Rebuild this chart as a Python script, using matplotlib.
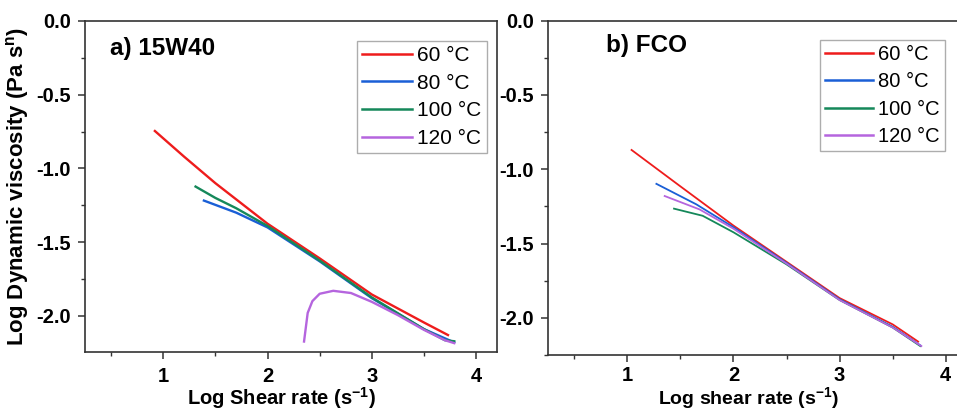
import matplotlib
matplotlib.use("Agg")
import matplotlib.pyplot as plt
from matplotlib.ticker import MultipleLocator, FormatStrFormatter

plt.rcParams['font.family'] = ['Liberation Sans', 'DejaVu Sans']
plt.rcParams['mathtext.default'] = 'regular'
plt.rcParams['axes.unicode_minus'] = False

labels = ['60 °C', '80 °C', '100 °C', '120 °C']
colors = ['#ee1c1c', '#1a5fd6', '#15885a', '#b565de']

# Panel a) 15W40
a_x60 = [0.92, 1.2, 1.5, 2.0, 2.5, 3.0, 3.5, 3.73]
a_y60 = [-0.746, -0.92, -1.10, -1.375, -1.61, -1.855, -2.045, -2.13]
a_x80 = [1.39, 1.7, 2.0, 2.5, 3.0, 3.5, 3.79]
a_y80 = [-1.218, -1.30, -1.40, -1.63, -1.88, -2.09, -2.18]
a_x100 = [1.31, 1.5, 1.7, 2.0, 2.5, 3.0, 3.5, 3.7, 3.79]
a_y100 = [-1.123, -1.20, -1.27, -1.39, -1.625, -1.875, -2.09, -2.165, -2.172]
a_x120 = [2.35, 2.385, 2.43, 2.5, 2.63, 2.8, 3.0, 3.25, 3.5, 3.7, 3.79]
a_y120 = [-2.174, -1.98, -1.90, -1.85, -1.83, -1.845, -1.905, -1.995, -2.095, -2.165, -2.185]

# Panel b) FCO
b_x60 = [1.04, 1.5, 2.0, 2.5, 3.0, 3.5, 3.74]
b_y60 = [-0.87, -1.115, -1.379, -1.623, -1.867, -2.044, -2.16]
b_x80 = [1.274, 1.65, 2.0, 2.5, 3.0, 3.5, 3.76]
b_y80 = [-1.098, -1.236, -1.39, -1.63, -1.875, -2.06, -2.185]
b_x100 = [1.44, 1.71, 2.0, 2.5, 3.0, 3.5, 3.76]
b_y100 = [-1.265, -1.313, -1.424, -1.64, -1.88, -2.065, -2.19]
b_x120 = [1.352, 1.68, 2.0, 2.5, 3.0, 3.5, 3.77]
b_y120 = [-1.18, -1.27, -1.40, -1.635, -1.88, -2.065, -2.19]

W, H = 957, 412
fig = plt.figure(figsize=(W / 100, H / 100), dpi=100)

def px_axes(x0, x1, ytop, ybot):
    return fig.add_axes([x0 / W, 1 - ybot / H, (x1 - x0) / W, (ybot - ytop) / H])

A1 = (85, 497, 21, 352)
A2 = (547.7, 967, 20.7, 355)
ax1 = px_axes(*A1)
ax2 = px_axes(*A2)

def style(ax, ylim_low, xpad):
    ax.set_xlim(0.25, 4.2)
    ax.set_ylim(ylim_low, 0)
    ax.xaxis.set_major_locator(MultipleLocator(1))
    ax.xaxis.set_minor_locator(MultipleLocator(0.5))
    ax.yaxis.set_major_locator(MultipleLocator(0.5))
    ax.yaxis.set_minor_locator(MultipleLocator(0.25))
    ax.yaxis.set_major_formatter(FormatStrFormatter('%.1f'))
    ax.tick_params(which='major', direction='out', length=5, width=1.1,
                   color='#333333', labelsize=14.5, pad=5)
    ax.tick_params(which='minor', direction='out', length=3, width=1.0,
                   color='#333333')
    ax.tick_params(axis='x', which='major', pad=xpad)
    for sp in ax.spines.values():
        sp.set_color('#333333')
        sp.set_linewidth(1.2)

style(ax1, -2.245, 6)
style(ax2, -2.25, 3)

for xs, ys, c, l in zip([a_x60, a_x80, a_x100, a_x120],
                        [a_y60, a_y80, a_y100, a_y120], colors, labels):
    ax1.plot(xs, ys, color=c, lw=1.7, label=l)
for xs, ys, c, l in zip([b_x60, b_x80, b_x100, b_x120],
                        [b_y60, b_y80, b_y100, b_y120], colors, labels):
    ax2.plot(xs, ys, color=c, lw=1.3, label=l)

for ax in (ax1, ax2):
    for lab in ax.get_xticklabels() + ax.get_yticklabels():
        lab.set_fontweight('bold')

ax1.text(0.061, 0.918, 'a) 15W40', transform=ax1.transAxes, fontsize=17.5,
         fontweight='bold', va='center', ha='left')
ax2.text(0.139, 0.925, 'b) FCO', transform=ax2.transAxes, fontsize=17.5,
         fontweight='bold', va='center', ha='left')

ax1.set_ylabel('Log Dynamic viscosity (Pa s$^{n}$)', fontsize=16, fontweight='bold',
               labelpad=4)
ax1.set_xlabel('Log Shear rate (s$^{-1}$)', fontsize=14.5, fontweight='bold', va='bottom')
ax2.set_xlabel('Log shear rate (s$^{-1}$)', fontsize=14, fontweight='bold', va='bottom')
ax1.xaxis.set_label_coords(0.476, (A1[3] - 411) / (A1[3] - A1[2]))
ax2.xaxis.set_label_coords(0.479, (A2[3] - 411) / (A2[3] - A2[2]))

leg_kw = dict(loc='upper left', frameon=True, fancybox=False, borderaxespad=0,
              handletextpad=0.25, borderpad=0.25, labelspacing=0.42)
l1 = ax1.legend(bbox_to_anchor=(0.660, 0.9405), fontsize=15, handlelength=2.4, **leg_kw)
l2 = ax2.legend(bbox_to_anchor=(0.649, (A2[3] - 40) / (A2[3] - A2[2])), fontsize=14.5,
                handlelength=2.4, **leg_kw)
for lg in (l1, l2):
    lg.get_frame().set_edgecolor('#999999')
    lg.get_frame().set_linewidth(1.0)
    for ln in lg.get_lines():
        ln.set_linewidth(1.8)

fig.savefig('out.png', dpi=100)
